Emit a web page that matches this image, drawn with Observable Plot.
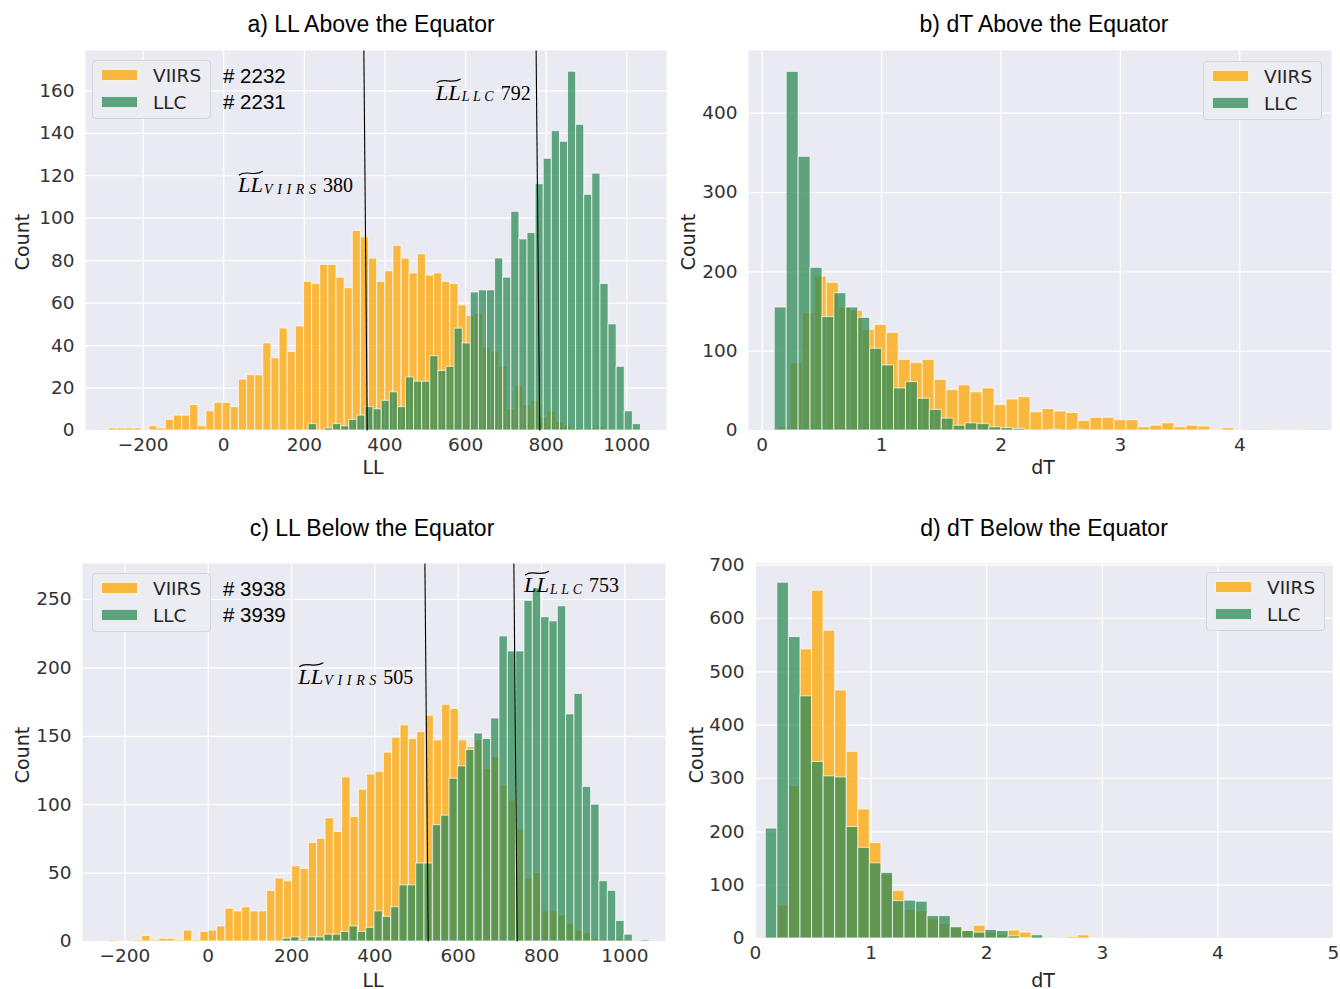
<!DOCTYPE html>
<html>
<head>
<meta charset="utf-8">
<script src="https://cdn.jsdelivr.net/npm/d3@7"></script>
<script src="https://cdn.jsdelivr.net/npm/@observablehq/plot@0.6"></script>
<style>
html, body { margin: 0; padding: 0; background: #fff; overflow: hidden; }
#root { position: relative; width: 1340px; height: 989px; font-family: "DejaVu Sans", sans-serif; color: #262626; }
#root svg { position: absolute; left: 0; top: 0; }
.t { position: absolute; transform: translate(-50%, -50%); white-space: nowrap; line-height: 1; }
.title { font-family: "Liberation Sans", Arial, sans-serif; font-size: 23px; color: #000; }
.axl { font-size: 19px; color: #262626; }
.rot { transform: translate(-50%, -50%) rotate(-90deg); }
.cnt { position: absolute; transform: translateY(-50%); font-family: "Liberation Sans", Arial, sans-serif; font-size: 20.5px; color: #000; white-space: nowrap; line-height: 1; }
.legend { position: absolute; width: 119px; height: 59px; box-sizing: border-box; background: #ececf3; border: 1px solid #d4d4dc; border-radius: 4px; }
.patch { position: absolute; width: 37px; height: 12px; box-sizing: border-box; border: 1px solid rgba(255,255,255,0.8); }
.ltxt { position: absolute; transform: translateY(-50%); font-size: 18.5px; color: #262626; line-height: 1; }
</style>
</head>
<body>
<div id="root"></div>
<script>
// ---------------- data ----------------
// a) LL above the equator
const aViirsStart = -285, aViirsWidth = 20.17;
const aViirsCounts = [1,1,1,1,0,2,1,5,7,7,12,2,9,13,13,11,24,26,26,41,34,48,37,49,70,69,78,78,72,67,94,91,81,70,75,87,81,74,83,73,74,70,69,59,54,55,39,37,30,10,21,12,14,6,9,4,2,1,0,1,2];
const aLlcStart = 211, aLlcWidth = 20.1;
const aLlcCounts = [3,0,1,3,2,5,7,11,10,14,18,11,25,23,23,35,28,30,48,41,65,66,66,81,72,103,90,93,116,128,141,136,169,144,111,121,69,50,30,9,3];
const aMedianViirs = {x1: 347.6, x2: 356, label: "380"};
const aMedianLlc = {x1: 775, x2: 784, label: "792"};
const aN = ["# 2232", "# 2231"];

// b) dT above the equator
const bViirsStart = 0.139, bViirsWidth = 0.1004;
const bViirsCounts = [5,85,148,194,186,155,151,127,133,123,89,85,89,64,51,57,48,53,32,39,42,23,27,24,22,12,16,16,13,13,4,6,9,4,6,5,1,3,0,0,0,1,0,1];
const bLlcStart = 0.105, bLlcWidth = 0.0999;
const bLlcCounts = [155,452,345,205,143,173,155,142,103,82,53,61,40,26,15,6,9,8,4,3,2,0,0,1,0,1];

// c) LL below the equator
const cViirsStart = -238.5, cViirsWidth = 20;
const cViirsCounts = [1,0,0,1,4,1,2,2,1,8,1,7,8,11,24,22,25,22,22,37,46,44,55,53,72,75,90,80,120,91,111,122,124,138,149,158,148,153,165,147,173,170,147,142,147,126,135,114,103,82,46,50,22,22,19,13,8,6,2,0,0,2];
const cLlcStart = 179, cLlcWidth = 20;
const cLlcCounts = [2,3,1,3,3,5,5,7,11,7,10,22,18,25,41,41,57,57,85,92,119,128,140,152,148,163,223,212,212,249,258,237,234,245,166,181,113,100,44,37,15,5,0,1];
const cMedianViirs = {x1: 520, x2: 528, label: "505"};
const cMedianLlc = {x1: 733.5, x2: 741.5, label: "753"};
const cN = ["# 3938", "# 3939"];

// d) dT below the equator
const dStart = 0.089, dWidth = 0.1;
const dViirsCounts = [0,62,286,542,652,577,465,350,242,179,120,89,54,51,36,27,21,14,24,11,7,15,11,2,1,0,3,6,1,1,1];
const dLlcCounts = [206,667,565,454,331,304,302,209,170,141,123,70,71,69,42,42,21,14,11,16,14,4,1,6,0,1];

// tick values
const llTicks = [-200, 0, 200, 400, 600, 800, 1000];
const aYTicks = [0, 20, 40, 60, 80, 100, 120, 140, 160];
const bXTicks = [0, 1, 2, 3, 4];
const bYTicks = [0, 100, 200, 300, 400];
const cYTicks = [0, 50, 100, 150, 200, 250];
const dXTicks = [0, 1, 2, 3, 4, 5];
const dYTicks = [0, 100, 200, 300, 400, 500, 600, 700];

const titles = ["a) LL Above the Equator", "b) dT Above the Equator", "c) LL Below the Equator", "d) dT Below the Equator"];

// ---------------- drawing ----------------
const W = 1340, H = 989;
const root = document.getElementById("root");
const ORANGE = "#FFA500", GREEN = "#2E8B57";
const fmt = d3.format("d");

function binRows(start, width, counts) {
  return counts.map((c, i) => ({x1: start + i * width, x2: start + (i + 1) * width, count: c}))
               .filter(d => d.count > 0);
}

function drawPanel(p) {
  const viirs = binRows(p.viirsStart, p.viirsWidth, p.viirsCounts);
  const llc = binRows(p.llcStart, p.llcWidth, p.llcCounts);
  const marks = [
    Plot.frame({fill: "#EAEAF2", stroke: null}),
    Plot.gridX(p.xTicks, {stroke: "#fff", strokeOpacity: 1, strokeWidth: 1.2}),
    Plot.gridY(p.yTicks, {stroke: "#fff", strokeOpacity: 1, strokeWidth: 1.2}),
    Plot.rect(viirs, {x1: "x1", x2: "x2", y1: () => 0, y2: "count", fill: ORANGE, fillOpacity: 0.75, stroke: "#fff", strokeOpacity: 0.7, strokeWidth: 1}),
    Plot.rect(llc, {x1: "x1", x2: "x2", y1: () => 0, y2: "count", fill: GREEN, fillOpacity: 0.75, stroke: "#fff", strokeOpacity: 0.7, strokeWidth: 1}),
    Plot.axisX(p.xTicks, {tickSize: 0, tickPadding: 7, label: null, tickFormat: fmt}),
    Plot.axisY(p.yTicks, {tickSize: 0, tickPadding: 11, label: null, tickFormat: fmt})
  ];
  if (p.medians) {
    marks.push(Plot.link(p.medians, {x1: "x1", y1: () => p.yDomain[1], x2: "x2", y2: () => 0, stroke: "#000", strokeWidth: 1.1}));
  }
  const plot = Plot.plot({
    width: W, height: H,
    marginLeft: p.area[0], marginRight: W - p.area[1], marginTop: p.area[2], marginBottom: H - p.area[3],
    x: {domain: p.xDomain},
    y: {domain: p.yDomain},
    style: {background: "transparent", fontFamily: "DejaVu Sans, sans-serif", fontSize: "18.5px", color: "#333", overflow: "visible"},
    marks
  });
  root.appendChild(plot);
  if (p.labels) {
    const sx = plot.scale("x"), sy = plot.scale("y");
    for (const a of p.labels) {
      const x0 = sx.apply(a.x), y0 = sy.apply(a.y);
      const g = d3.select(plot).append("g").attr("fill", "#000").attr("text-anchor", "start")
        .attr("font-family", "'Liberation Serif', 'DejaVu Serif', serif");
      g.append("text").attr("x", x0).attr("y", y0).attr("font-size", 21).attr("font-style", "italic")
        .attr("textLength", 25).attr("lengthAdjust", "spacingAndGlyphs").text("LL");
      g.append("text").attr("x", x0 + 26).attr("y", y0 + 1.5).attr("font-size", 14).attr("font-style", "italic")
        .attr("textLength", a.subW).attr("lengthAdjust", "spacing").text(a.sub);
      g.append("text").attr("x", x0 + 26 + a.subW + 7).attr("y", y0).attr("font-size", 20).text(a.num);
      g.append("path")
        .attr("d", `M${x0 + 1},${y0 - 17} C${x0 + 8},${y0 - 23} ${x0 + 16},${y0 - 15} ${x0 + 25},${y0 - 21}`)
        .attr("fill", "none").attr("stroke", "#000").attr("stroke-width", 1.2);
    }
  }
}

drawPanel({
  area: [85, 666, 50, 430], xDomain: [-343, 1098.5], yDomain: [0, 179],
  xTicks: llTicks, yTicks: aYTicks,
  viirsStart: aViirsStart, viirsWidth: aViirsWidth, viirsCounts: aViirsCounts,
  llcStart: aLlcStart, llcWidth: aLlcWidth, llcCounts: aLlcCounts,
  medians: [aMedianViirs, aMedianLlc],
  labels: [
    {x: 36.5, y: 112, sub: "VIIRS", subW: 52, num: aMedianViirs.label},
    {x: 527, y: 155.5, sub: "LLC", subW: 32, num: aMedianLlc.label}
  ]
});
drawPanel({
  area: [748, 1331, 50, 430], xDomain: [-0.115, 4.768], yDomain: [0, 479],
  xTicks: bXTicks, yTicks: bYTicks,
  viirsStart: bViirsStart, viirsWidth: bViirsWidth, viirsCounts: bViirsCounts,
  llcStart: bLlcStart, llcWidth: bLlcWidth, llcCounts: bLlcCounts
});
drawPanel({
  area: [82, 665, 563, 941], xDomain: [-301.7, 1097.4], yDomain: [0, 276.3],
  xTicks: llTicks, yTicks: cYTicks,
  viirsStart: cViirsStart, viirsWidth: cViirsWidth, viirsCounts: cViirsCounts,
  llcStart: cLlcStart, llcWidth: cLlcWidth, llcCounts: cLlcCounts,
  medians: [cMedianViirs, cMedianLlc],
  labels: [
    {x: 217.5, y: 188, sub: "VIIRS", subW: 52, num: cMedianViirs.label},
    {x: 759, y: 255, sub: "LLC", subW: 32, num: cMedianLlc.label}
  ]
});
drawPanel({
  area: [755, 1333, 563, 938], xDomain: [0, 5], yDomain: [0, 703],
  xTicks: dXTicks, yTicks: dYTicks,
  viirsStart: dStart, viirsWidth: dWidth, viirsCounts: dViirsCounts,
  llcStart: dStart, llcWidth: dWidth, llcCounts: dLlcCounts
});

// ---------------- text overlays ----------------
function addDiv(cls, text, left, top, extraStyle) {
  const d = document.createElement("div");
  d.className = cls;
  d.textContent = text;
  d.style.left = left + "px";
  d.style.top = top + "px";
  if (extraStyle) Object.assign(d.style, extraStyle);
  root.appendChild(d);
  return d;
}
addDiv("t title", titles[0], 371, 24);
addDiv("t title", titles[1], 1044, 24);
addDiv("t title", titles[2], 372, 528);
addDiv("t title", titles[3], 1044, 528);

addDiv("t axl rot", "Count", 22, 242);
addDiv("t axl rot", "Count", 688, 242);
addDiv("t axl rot", "Count", 22, 755);
addDiv("t axl rot", "Count", 696, 755);
addDiv("t axl", "LL", 373, 467);
addDiv("t axl", "dT", 1043, 467);
addDiv("t axl", "LL", 373, 980);
addDiv("t axl", "dT", 1043, 980);

function legend(left, top) {
  const box = document.createElement("div");
  box.className = "legend";
  box.style.left = left + "px";
  box.style.top = top + "px";
  root.appendChild(box);
  addDiv("patch", "", left + 9, top + 9, {background: "rgba(255,165,0,0.75)"});
  addDiv("patch", "", left + 9, top + 36, {background: "rgba(46,139,87,0.75)"});
  addDiv("ltxt", "VIIRS", left + 61, top + 16);
  addDiv("ltxt", "LLC", left + 61, top + 43);
}
legend(92, 60);
legend(1203, 61);
legend(92, 573);
legend(1206, 572);

addDiv("cnt", aN[0], 223, 76);
addDiv("cnt", aN[1], 223, 102);
addDiv("cnt", cN[0], 223, 589);
addDiv("cnt", cN[1], 223, 615);
</script>
</body>
</html>
